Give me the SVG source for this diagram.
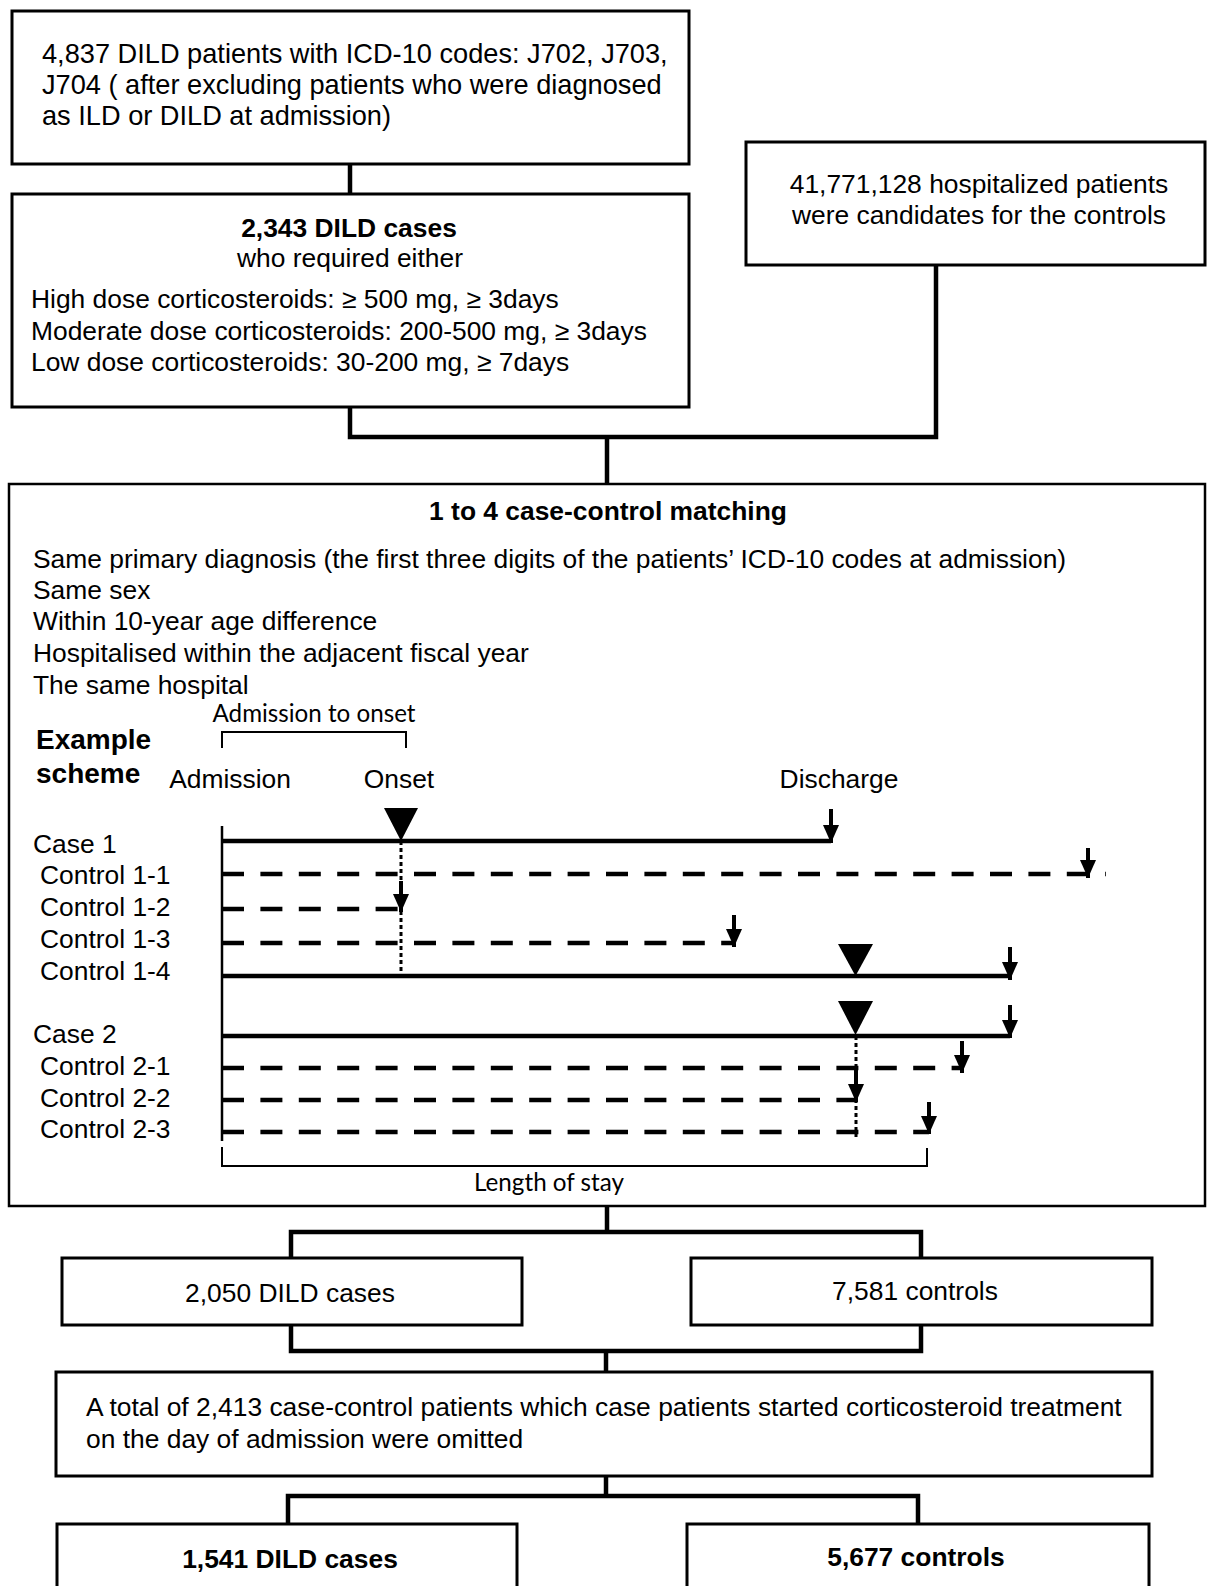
<svg xmlns="http://www.w3.org/2000/svg" width="1207" height="1586" viewBox="0 0 1207 1586">
<style>
text{font-family:"Liberation Sans",Arial,sans-serif;font-size:26.4px;fill:#000}
.b{font-weight:bold}
.c{text-anchor:middle}
.t1{font-size:27.2px}
.cal{font-family:Lato,"Liberation Sans",sans-serif;font-size:25px}
.box{fill:#fff;stroke:#000;stroke-width:3}
.big{fill:#fff;stroke:#000;stroke-width:2.5}
.con{fill:none;stroke:#000;stroke-width:4.5}
.solid{stroke:#000;stroke-width:4.5;fill:none}
.dash{stroke:#000;stroke-width:4.5;fill:none;stroke-dasharray:22 16.4}
.dot{stroke:#000;stroke-width:3;fill:none;stroke-dasharray:4 3}
.thin{stroke:#000;stroke-width:2;fill:none}
.arr{stroke:#000;stroke-width:4;fill:none;marker-end:url(#ah)}
</style>
<defs>
<marker id="ah" markerUnits="userSpaceOnUse" markerWidth="18" markerHeight="16" refX="18" refY="8" orient="auto">
<path d="M0,0 L18,8 L0,16 z" fill="#000"/>
</marker>
</defs>
<rect width="1207" height="1586" fill="#fff"/>

<g id="connectors">
<path class="con" d="M350,164 V194"/>
<path class="con" d="M350,407 V437 H936 V265"/>
<path class="con" d="M607,437 V484"/>
<path class="con" d="M607,1206 V1232"/>
<path class="con" d="M291,1258 V1232 H921 V1258"/>
<path class="con" d="M291,1325 V1351 H921 V1325"/>
<path class="con" d="M606,1351 V1372"/>
<path class="con" d="M606,1476 V1496"/>
<path class="con" d="M288,1524 V1496 H918 V1524"/>
</g>

<g id="n1">
<rect class="box" x="12" y="11" width="677" height="153"/>
<text class="t1" x="42" y="63">4,837 DILD patients with ICD-10 codes: J702, J703,</text>
<text class="t1" x="42" y="94">J704 ( after excluding patients who were diagnosed</text>
<text class="t1" x="42" y="125">as ILD or DILD at admission)</text>
</g>

<g id="n2">
<rect class="box" x="12" y="194" width="677" height="213"/>
<text class="b c" x="349" y="237">2,343 DILD cases</text>
<text class="c" x="350" y="267">who required either</text>
<text x="31" y="308">High dose corticosteroids: ≥ 500 mg, ≥ 3days</text>
<text x="31" y="340">Moderate dose corticosteroids: 200-500 mg, ≥ 3days</text>
<text x="31" y="371">Low dose corticosteroids: 30-200 mg, ≥ 7days</text>
</g>

<g id="n3">
<rect class="box" x="746" y="142" width="459" height="123"/>
<text class="c" x="979" y="193">41,771,128 hospitalized patients</text>
<text class="c" x="979" y="224">were candidates for the controls</text>
</g>

<g id="n4">
<rect class="big" x="9" y="484" width="1196" height="722"/>
<text class="b c" x="608" y="520">1 to 4 case-control matching</text>
<text x="33" y="568">Same primary diagnosis (the first three digits of the patients’ ICD-10 codes at admission)</text>
<text x="33" y="599">Same sex</text>
<text x="33" y="630">Within 10-year age difference</text>
<text x="33" y="662">Hospitalised within the adjacent fiscal year</text>
<text x="33" y="694">The same hospital</text>

<text class="cal c" x="314" y="722" textLength="203" lengthAdjust="spacingAndGlyphs">Admission to onset</text>
<path class="thin" d="M222,748 V732 H406 V748"/>
<text class="b" x="36" y="749" style="font-size:28px">Example</text>
<text class="b" x="36" y="783" style="font-size:28px">scheme</text>
<text class="c" x="230" y="788">Admission</text>
<text class="c" x="399" y="788">Onset</text>
<text class="c" x="839" y="788">Discharge</text>

<text x="33" y="853">Case  1</text>
<text x="40" y="884">Control 1-1</text>
<text x="40" y="916">Control 1-2</text>
<text x="40" y="948">Control 1-3</text>
<text x="40" y="980">Control 1-4</text>
<text x="33" y="1043">Case 2</text>
<text x="40" y="1075">Control 2-1</text>
<text x="40" y="1107">Control 2-2</text>
<text x="40" y="1138">Control 2-3</text>

<path class="thin" d="M222,826 V1141" style="stroke-width:2.5"/>
<path class="solid" d="M222,841 H831"/>
<path class="dash" d="M222,874 H1106"/>
<path class="dash" d="M222,909 H398"/>
<path class="dash" d="M222,943 H734"/>
<path class="solid" d="M222,976 H1010"/>
<path class="solid" d="M222,1036 H1010"/>
<path class="dash" d="M222,1068 H962"/>
<path class="dash" d="M222,1100 H857"/>
<path class="dash" d="M222,1132 H929"/>

<path class="dot" d="M401,841 V980"/>
<path class="dot" d="M856,1036 V1137"/>

<polygon points="384,808 418,808 401,841" fill="#000"/>
<polygon points="838,944 873,944 855.5,976" fill="#000"/>
<polygon points="838,1001 873,1001 855.5,1035" fill="#000"/>

<path class="arr" d="M831,809 V843"/>
<path class="arr" d="M1088,848 V878"/>
<path class="arr" d="M401,881 V912"/>
<path class="arr" d="M734,915 V947"/>
<path class="arr" d="M1010,947 V980"/>
<path class="arr" d="M1010,1005 V1038"/>
<path class="arr" d="M962,1041 V1073"/>
<path class="arr" d="M856,1070 V1102"/>
<path class="arr" d="M929,1102 V1134"/>

<path class="thin" d="M222,1147 V1166 H927 V1148"/>
<text class="cal c" x="549" y="1191" textLength="150" lengthAdjust="spacingAndGlyphs">Length of stay</text>
</g>

<g id="n5">
<rect class="box" x="62" y="1258" width="460" height="67"/>
<text class="c" x="290" y="1302">2,050 DILD cases</text>
</g>
<g id="n6">
<rect class="box" x="691" y="1258" width="461" height="67"/>
<text class="c" x="915" y="1300">7,581 controls</text>
</g>

<g id="n7">
<rect class="box" x="56" y="1372" width="1096" height="104"/>
<text x="86" y="1416">A total of 2,413 case-control patients which case patients started corticosteroid treatment</text>
<text x="86" y="1448">on the day of admission were omitted</text>
</g>

<g id="n8">
<rect class="box" x="57" y="1524" width="460" height="80"/>
<text class="b c" x="290" y="1568">1,541 DILD cases</text>
</g>
<g id="n9">
<rect class="box" x="687" y="1524" width="462" height="80"/>
<text class="b c" x="916" y="1566">5,677 controls</text>
</g>
</svg>
